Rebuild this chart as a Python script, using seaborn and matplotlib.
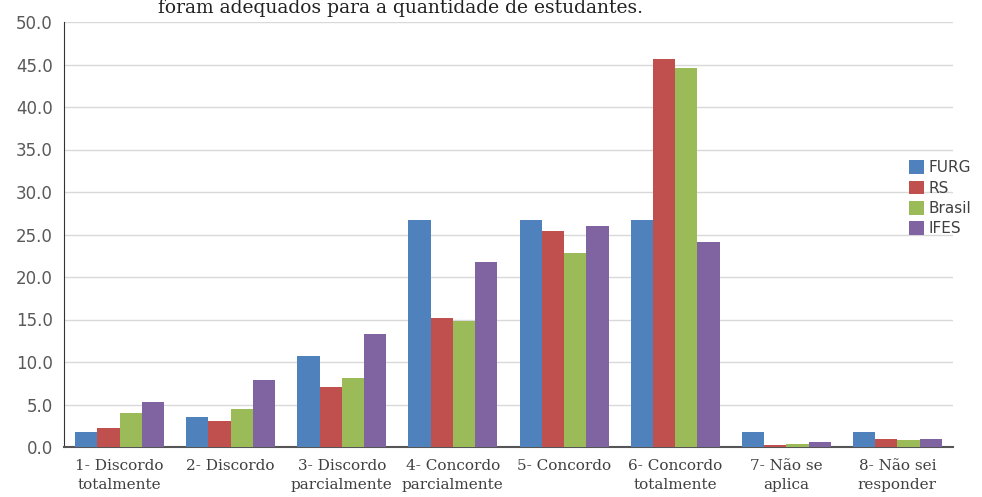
import pandas as pd
import numpy as np
import matplotlib.pyplot as plt
import seaborn as sns

categories = ['1- Discordo\ntotalmente', '2- Discordo', '3- Discordo\nparcialmente',
              '4- Concordo\nparcialmente', '5- Concordo', '6- Concordo\ntotalmente',
              '7- Não se\naplica', '8- Não sei\nresponder']
furg = [1.8, 3.5, 10.7, 26.7, 26.7, 26.7, 1.8, 1.8]
rs = [2.2, 3.1, 7.1, 15.2, 25.4, 45.6, 0.2, 0.9]
brasil = [4.0, 4.5, 8.1, 14.8, 22.8, 44.6, 0.4, 0.8]
ifes = [5.3, 7.9, 13.3, 21.8, 26.0, 24.1, 0.6, 0.9]
series = ['FURG', 'RS', 'Brasil', 'IFES']
yticks = [0, 5, 10, 15, 20, 25, 30, 35, 40, 45, 50]

rows = []
for name, vals in zip(series, [furg, rs, brasil, ifes]):
    for c, v in zip(categories, vals):
        rows.append({'cat': c, 'serie': name, 'valor': v})
df = pd.DataFrame(rows)

colors = ['#4F81BD', '#C0504D', '#9BBB59', '#8064A2']

sns.set_style('white')
fig = plt.figure(figsize=(9.82, 4.97), dpi=100)
ax = fig.add_axes([64 / 982, 50 / 497, 889 / 982, 425 / 497])
sns.barplot(data=df, x='cat', y='valor', hue='serie', palette=colors,
            width=0.8, saturation=1, linewidth=0, ax=ax, zorder=3)

ax.set_ylim(0, 50)
ax.set_yticks(yticks)
ax.set_yticklabels([f'{t:.1f}' for t in yticks], fontsize=12, color='#595959',
                   family='DejaVu Sans')
ax.yaxis.grid(True, color='#d9d9d9', linewidth=1, zorder=0)
ax.set_axisbelow(True)
ax.set_xlabel('')
ax.set_ylabel('')
ax.tick_params(axis='y', length=0, pad=8)
ax.tick_params(axis='x', length=0, pad=9)
for lab in ax.get_xticklabels():
    lab.set_family('DejaVu Serif')
    lab.set_fontsize(11)
    lab.set_color('#404040')
    lab.set_linespacing(1.4)
for s in ['top', 'right']:
    ax.spines[s].set_visible(False)
ax.spines['left'].set_color('#333333')
ax.spines['bottom'].set_color('#555555')
ax.spines['bottom'].set_linewidth(1.5)

leg = ax.legend(loc='upper left', bbox_to_anchor=(903 / 982, 343 / 497),
                bbox_transform=fig.transFigure, frameon=False, fontsize=11,
                handlelength=1.0, handleheight=1.0, handletextpad=0.3,
                labelspacing=0.35, borderaxespad=0)
for t in leg.get_texts():
    t.set_color('#404040')

fig.text(400 / 982, 1 - 13 / 497, 'foram adequados para a quantidade de estudantes.',
         ha='center', va='baseline', fontsize=13.5, family='DejaVu Serif', color='#222222')

fig.savefig('out.png', dpi=100)
